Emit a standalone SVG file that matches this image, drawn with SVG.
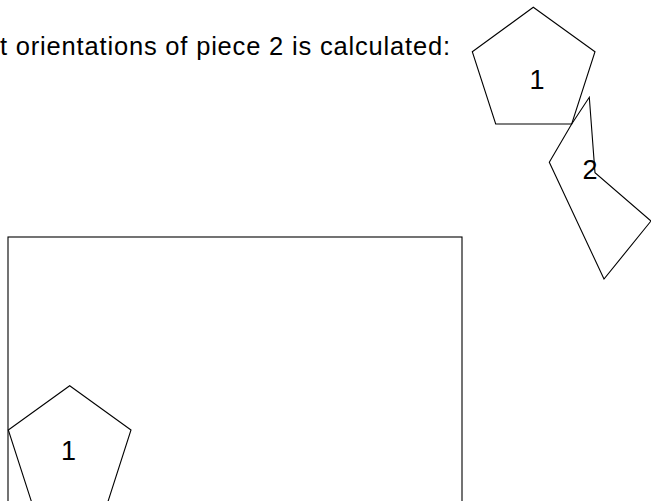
<svg xmlns="http://www.w3.org/2000/svg" width="651" height="501" viewBox="0 0 651 501">
<style>
.shape{fill:none;stroke:#000;stroke-width:1.1;stroke-linejoin:miter}
.lbl{font-family:"Liberation Sans","DejaVu Sans",sans-serif;font-size:27px;fill:#000;text-anchor:middle}
.cap{font-family:"Liberation Sans","DejaVu Sans",sans-serif;font-size:25.5px;fill:#000}
</style>
<rect width="651" height="501" fill="#fff"/>
<text class="cap" x="0" y="54.5" textLength="450" lengthAdjust="spacing">t orientations of piece 2 is calculated:</text>
<g id="piece1-top">
<polygon class="shape" points="533.3,7.3 595,51.7 571.7,124 495.7,124 472.3,51.7"/>
<text class="lbl" x="537" y="88.5">1</text>
</g>
<g id="piece2">
<polygon class="shape" points="571.7,124 589.3,97.3 595,172.7 651,221 604,279 549.3,162.3"/>
<text class="lbl" x="590" y="179">2</text>
</g>
<g id="board">
<rect class="shape" x="8" y="237" width="454" height="280"/>
</g>
<g id="piece1-board">
<polygon class="shape" points="69.7,385.7 131,430 107.7,502.4 31.7,502.4 8.3,430"/>
<text class="lbl" x="68.5" y="459.5">1</text>
</g>
<g id="connectors"/>
</svg>
